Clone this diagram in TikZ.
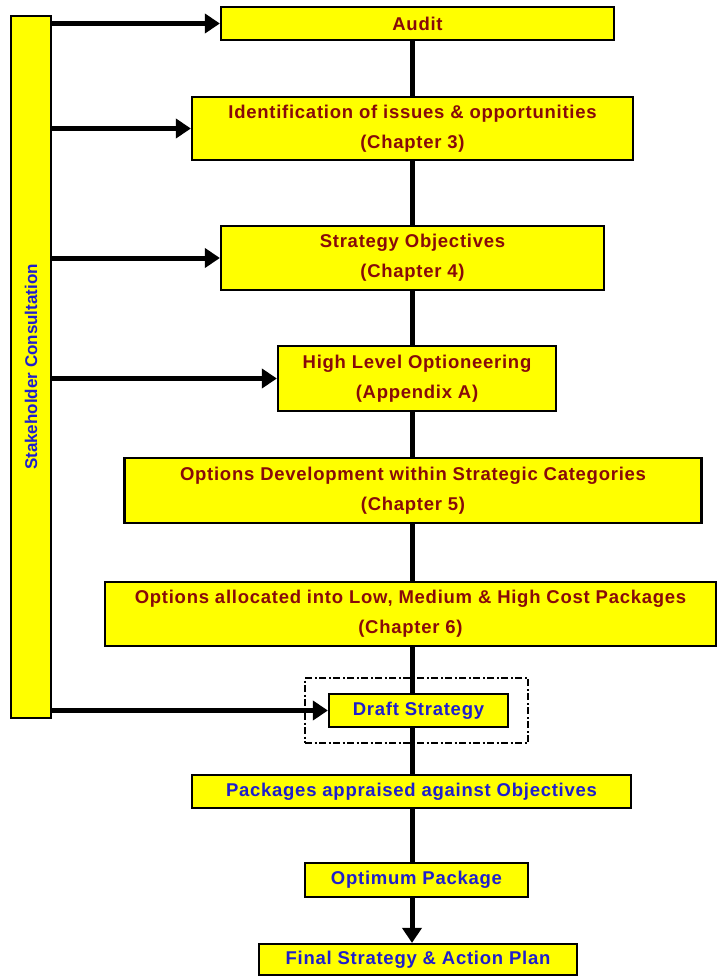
\documentclass[tikz,border=0pt]{standalone}
\usepackage{fontspec}
\setmainfont{Liberation Sans}
\newfontfamily\stagefont{Liberation Sans}[LetterSpace=4]
\usetikzlibrary{arrows.meta,positioning}
\definecolor{boxyellow}{RGB}{255,255,0}
\definecolor{chapred}{RGB}{135,10,10}
\definecolor{stageblue}{RGB}{30,30,205}

\begin{document}
\begin{tikzpicture}[x=1pt,y=-1pt,>={Triangle[length=15pt,width=19pt]},
  box/.style={draw,fill=boxyellow,line width=2.2pt,inner sep=0pt,align=center,
    font=\stagefont\bfseries\fontsize{18.5}{30}\selectfont},
  upper/.style={box,text=chapred},
  lower/.style={box,text=stageblue},
  link/.style={line width=5pt},
  feed/.style={link,->}]

\useasboundingbox (0,0) rectangle (717,976);
\coordinate (spine) at (412,0);

% consultation bar
\node[draw,fill=boxyellow,line width=2.2pt,minimum width=40pt,minimum height=702pt] (consult) at (31,367) {};
\node[rotate=90,text=stageblue,font=\bfseries\fontsize{17}{18}\selectfont] (consulttext) at (consult) {Stakeholder Consultation};

% stages
\node[upper,minimum width=393pt,minimum height=33pt] (audit) at (417.5,23.5) {Audit};
\node[upper,minimum width=441pt,minimum height=63pt] (issues) at (412.5,128.5) {Identification of issues \& opportunities\\(Chapter 3)};
\node[upper,minimum width=383pt,minimum height=64pt] (objectives) at (412.5,258) {Strategy Objectives\\(Chapter 4)};
\node[upper,minimum width=278pt,minimum height=65pt] (optioneering) at (417,378.5) {High Level Optioneering\\(Appendix A)};
\node[upper,minimum width=577pt,minimum height=65pt] (development) at (413,490.5) {Options Development within Strategic Categories\\(Chapter 5)};
\node[upper,minimum width=611pt,minimum height=64pt] (allocated) at (410.5,614) {Options allocated into Low, Medium \& High Cost Packages\\(Chapter 6)};
\node[lower,minimum width=179pt,minimum height=33pt] (draft) at (418.5,710.5) {Draft Strategy};
\node[draw,dash pattern=on 7pt off 2.5pt on 2pt off 2.5pt,line width=2pt,minimum width=223pt,minimum height=65pt] (draftframe) at (416.5,710.5) {};
\node[lower,minimum width=439pt,minimum height=33pt] (appraised) at (411.5,791.5) {Packages appraised against Objectives};
\node[lower,minimum width=223pt,minimum height=34pt] (optimum) at (416.5,880) {Optimum Package};
\node[lower,minimum width=318pt,minimum height=31pt] (final) at (418,959.5) {Final Strategy \& Action Plan};

% spine
\draw[link] (audit.south -| spine) -- (issues.north -| spine);
\draw[link] (issues.south -| spine) -- (objectives.north -| spine);
\draw[link] (objectives.south -| spine) -- (optioneering.north -| spine);
\draw[link] (optioneering.south -| spine) -- (development.north -| spine);
\draw[link] (development.south -| spine) -- (allocated.north -| spine);
\draw[link] (allocated.south -| spine) -- (draft.north -| spine);
\draw[link] (draft.south -| spine) -- (appraised.north -| spine);
\draw[link] (appraised.south -| spine) -- (optimum.north -| spine);
\draw[feed] (optimum.south -| spine) -- (final.north -| spine);

% consultation feeds
\draw[feed] (consult.east |- audit.west) -- (audit.west);
\draw[feed] (consult.east |- issues.west) -- (issues.west);
\draw[feed] (consult.east |- objectives.west) -- (objectives.west);
\draw[feed] (consult.east |- optioneering.west) -- (optioneering.west);
\draw[feed] (consult.east |- draft.west) -- (draft.west);
\end{tikzpicture}
\end{document}
